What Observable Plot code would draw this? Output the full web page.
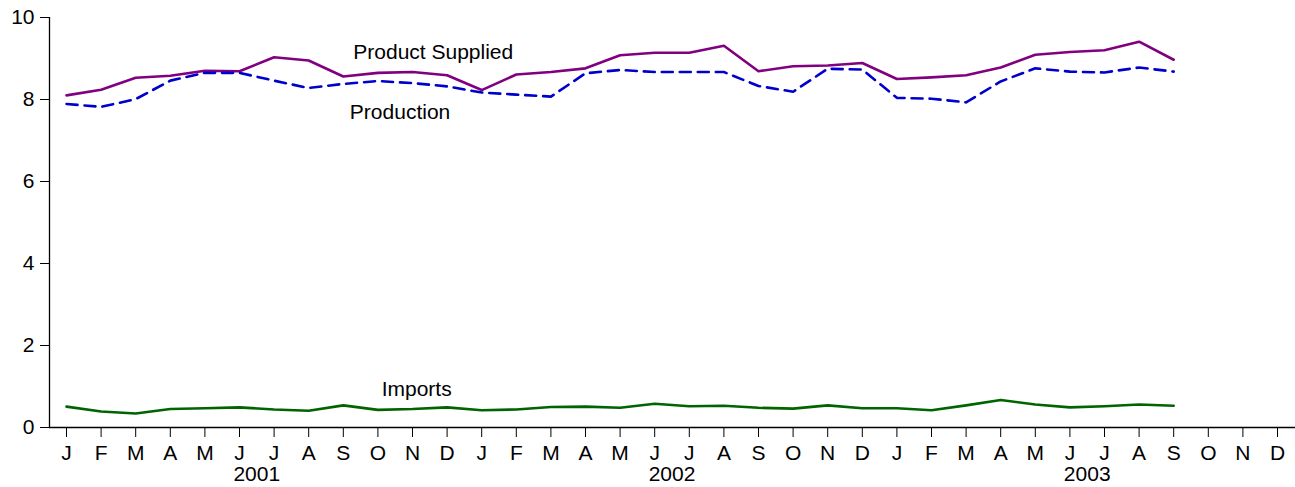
<!DOCTYPE html>
<html>
<head>
<meta charset="utf-8">
<script src="https://cdn.jsdelivr.net/npm/d3@7"></script>
<script src="https://cdn.jsdelivr.net/npm/@observablehq/plot@0.6"></script>
<style>
  html, body { margin: 0; padding: 0; background: #fff; }
  #chart svg { display: block; }
  #chart svg g[aria-label="y-axis tick label"] text,
  #chart svg g[aria-label="x-axis tick label"] text { font-size: 21px; }
  #chart svg g[aria-label="y-axis tick"] path,
  #chart svg g[aria-label="x-axis tick"] path { stroke: #000; stroke-opacity: 1; }
</style>
</head>
<body>
<div id="chart"></div>
<script>
// Month letters for tick labels, and year labels
const monthLetters = ["J","F","M","A","M","J","J","A","S","O","N","D"];
const years = ["2001", "2002", "2003"];
const monthCount = 36; // Jan 2001 .. Dec 2003

// Monthly values (million barrels per day), Jan 2001 .. Sep 2003
const productSupplied = [
  8.10, 8.24, 8.53, 8.58, 8.70, 8.69, 9.03, 8.95, 8.56, 8.65, 8.67, 8.59,
  8.23, 8.61, 8.67, 8.76, 9.08, 9.14, 9.14, 9.31, 8.69, 8.81, 8.83, 8.89,
  8.50, 8.54, 8.59, 8.78, 9.09, 9.16, 9.20, 9.41, 8.97
];
const production = [
  7.89, 7.82, 8.01, 8.46, 8.65, 8.65, 8.46, 8.28, 8.38, 8.45, 8.40, 8.32,
  8.17, 8.12, 8.07, 8.64, 8.72, 8.67, 8.67, 8.67, 8.33, 8.19, 8.75, 8.73,
  8.04, 8.02, 7.93, 8.44, 8.76, 8.68, 8.66, 8.78, 8.68
];
const imports = [
  0.51, 0.39, 0.34, 0.45, 0.47, 0.49, 0.44, 0.41, 0.54, 0.43, 0.45, 0.49,
  0.42, 0.44, 0.50, 0.51, 0.48, 0.58, 0.52, 0.53, 0.48, 0.46, 0.54, 0.47,
  0.47, 0.42, 0.54, 0.67, 0.56, 0.49, 0.52, 0.56, 0.53
];

// Series labels, anchored in data space (month index, value)
const seriesLabels = ["Product Supplied", "Production", "Imports"];
const labelMonth = [10.6, 9.64, 10.12];
const labelValue = [9.15, 7.68, 0.93];

const toRows = arr => arr.map((v, i) => ({month: i, value: v}));
const labelRows = seriesLabels.map((t, i) => ({text: t, month: labelMonth[i], value: labelValue[i]}));

const font = "'Liberation Sans', Arial, Helvetica, sans-serif";
const xInsetLeft = 17;

const chart = Plot.plot({
  width: 1295,
  height: 487,
  marginLeft: 49,
  marginRight: 0,
  marginTop: 17,
  marginBottom: 60,
  style: {fontFamily: font, fontSize: "21px", color: "#000", background: "#fff", overflow: "visible"},
  x: {domain: [0, monthCount - 1], insetLeft: xInsetLeft, insetRight: 18},
  y: {domain: [0, 10]},
  marks: [
    Plot.axisY({ticks: [0, 2, 4, 6, 8, 10], tickSize: 9, tickPadding: 6, label: null, fontSize: 21}),
    Plot.axisX({ticks: d3.range(monthCount), tickFormat: i => monthLetters[i % 12], tickSize: 10, tickPadding: 8, label: null, fontSize: 21}),
    Plot.axisX({ticks: years.map((y, i) => i * 12 + 5.5), tickFormat: d => years[Math.round((d - 5.5) / 12)], tickSize: 0, tickPadding: 39, label: null, fontSize: 21}),
    // axis lines
    Plot.ruleY([0], {stroke: "#000", strokeWidth: 1.3}),
    Plot.ruleX([0], {y1: 0, y2: 10, dx: -xInsetLeft, stroke: "#000", strokeWidth: 1.3}),
    Plot.line(toRows(productSupplied), {x: "month", y: "value", stroke: "#800080", strokeWidth: 2.6}),
    Plot.line(toRows(production), {x: "month", y: "value", stroke: "#0000CC", strokeWidth: 2.6, strokeDasharray: "11,7"}),
    Plot.line(toRows(imports), {x: "month", y: "value", stroke: "#006400", strokeWidth: 2.6}),
    Plot.text(labelRows, {x: "month", y: "value", text: "text", fontSize: 21, fill: "#000"})
  ]
});
document.getElementById("chart").appendChild(chart);
</script>
</body>
</html>
